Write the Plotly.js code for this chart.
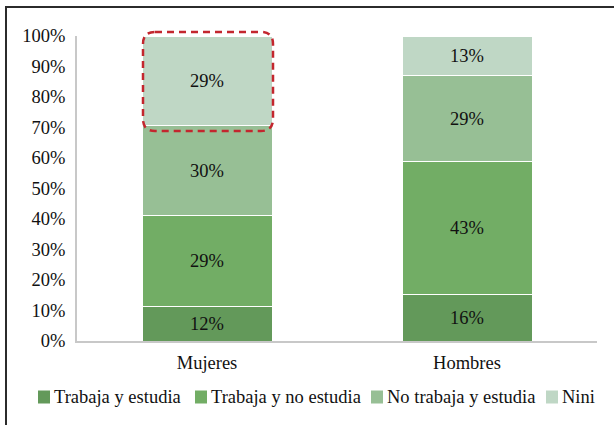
<!DOCTYPE html>
<html>
<head>
<meta charset="utf-8">
<script src="https://cdn.plot.ly/plotly-3.0.1.min.js"></script>
<style>
html,body{margin:0;padding:0;background:#fff;}
#wrap{position:relative;width:614px;height:425px;overflow:hidden;}
#chart{width:614px;height:425px;}
#frame{position:absolute;left:5px;top:6px;width:700px;height:500px;border-left:2px solid #2b2b2b;border-top:2px solid #2b2b2b;pointer-events:none;}
</style>
</head>
<body>
<div id="wrap"><div id="chart"></div><div id="frame"></div></div>
<script>
const categories = ["Mujeres", "Hombres"];
const seriesNames = ["Trabaja y estudia", "Trabaja y no estudia", "No trabaja y estudia", "Nini"];
const trabajaYEstudia = [11.3, 15.1];
const trabajaYNoEstudia = [29.7, 43.6];
const noTrabajaYEstudia = [29.6, 28.5];
const nini = [29.4, 12.8];
const labelsTrabajaYEstudia = ["12%", "16%"];
const labelsTrabajaYNoEstudia = ["29%", "43%"];
const labelsNoTrabajaYEstudia = ["30%", "29%"];
const labelsNini = ["29%", "13%"];
const yTickVals = [0,10,20,30,40,50,60,70,80,90,100];
const yTickText = ["0%","10%","20%","30%","40%","50%","60%","70%","80%","90%","100%"];

const colors = ["#63995a", "#72ad65", "#97bf95", "#bfd7c5"];
const values = [trabajaYEstudia, trabajaYNoEstudia, noTrabajaYEstudia, nini];
const labels = [labelsTrabajaYEstudia, labelsTrabajaYNoEstudia, labelsNoTrabajaYEstudia, labelsNini];
const serif = "Liberation Serif";
const fs = 18.5;

const traces = seriesNames.map((name, i) => ({
  type: "bar",
  name: name,
  x: categories,
  y: values[i],
  text: labels[i],
  textposition: "inside",
  insidetextanchor: "middle",
  textangle: 0,
  textfont: {family: serif, size: fs, color: "#111"},
  hoverinfo: "skip",
  showlegend: false,
  marker: {color: colors[i], line: {color: "#ffffff", width: 1}}
}));

// plot area in pixels: left 77, width 520; bottom 341, height 305
const L = 77, W = 520, B = 341, H = 305;
const px = v => (v - L) / W;
const py = v => (B - v) / H;

// legend layout (pixel positions of swatch left edges and text starts)
const legSwatchLeft = [38, 195, 371, 546];
const legTextLeft = [54, 211, 387, 562];
const legY = 397;

const shapes = [];
const annotations = [];
seriesNames.forEach((name, i) => {
  shapes.push({
    type: "rect", xref: "paper", yref: "paper",
    x0: px(legSwatchLeft[i]), x1: px(legSwatchLeft[i] + 12),
    y0: py(legY + 6.5), y1: py(legY - 6.5),
    fillcolor: colors[i], line: {width: 0}
  });
  annotations.push({
    text: name, xref: "paper", yref: "paper",
    x: px(legTextLeft[i] - 1), y: py(legY),
    xanchor: "left", yanchor: "middle", showarrow: false, borderpad: 0,
    font: {family: serif, size: fs, color: "#111"}
  });
});

// rounded dashed highlight box
const x0 = px(143), x1 = px(273), y0 = py(131), y1 = py(32), rx = 12 / W, ry = 12 / H;
const boxPath = `M ${x0+rx} ${y1} L ${x1-rx} ${y1} Q ${x1} ${y1} ${x1} ${y1-ry} L ${x1} ${y0+ry} Q ${x1} ${y0} ${x1-rx} ${y0} L ${x0+rx} ${y0} Q ${x0} ${y0} ${x0} ${y0+ry} L ${x0} ${y1-ry} Q ${x0} ${y1} ${x0+rx} ${y1} Z`;
shapes.push({
  type: "path", xref: "paper", yref: "paper",
  path: boxPath,
  line: {color: "#c3262e", width: 2.5, dash: "7px,5px"},
  fillcolor: "rgba(0,0,0,0)"
});

const layout = {
  width: 614, height: 425,
  margin: {l: 77, r: 17, t: 36, b: 84},
  paper_bgcolor: "#fff", plot_bgcolor: "#fff",
  barmode: "stack",
  bargap: 0.5,
  showlegend: false,
  font: {family: serif, size: fs, color: "#111"},
  xaxis: {
    type: "category",
    range: [-0.5, 1.5],
    showline: true, linecolor: "#c8c8c8", linewidth: 2,
    ticks: "", showgrid: false, zeroline: false,
    tickfont: {family: serif, size: fs, color: "#111"},
    ticklabelstandoff: 4,
    fixedrange: true
  },
  yaxis: {
    range: [0, 100],
    tickvals: yTickVals, ticktext: yTickText,
    showline: true, linecolor: "#c8c8c8", linewidth: 2,
    ticks: "", ticklen: 0, showgrid: false, zeroline: false,
    tickfont: {family: serif, size: fs, color: "#111"},
    ticklabelstandoff: 6,
    fixedrange: true
  },
  shapes: shapes,
  annotations: annotations
};

Plotly.newPlot("chart", traces, layout, {staticPlot: true, displayModeBar: false});
</script>
</body>
</html>
